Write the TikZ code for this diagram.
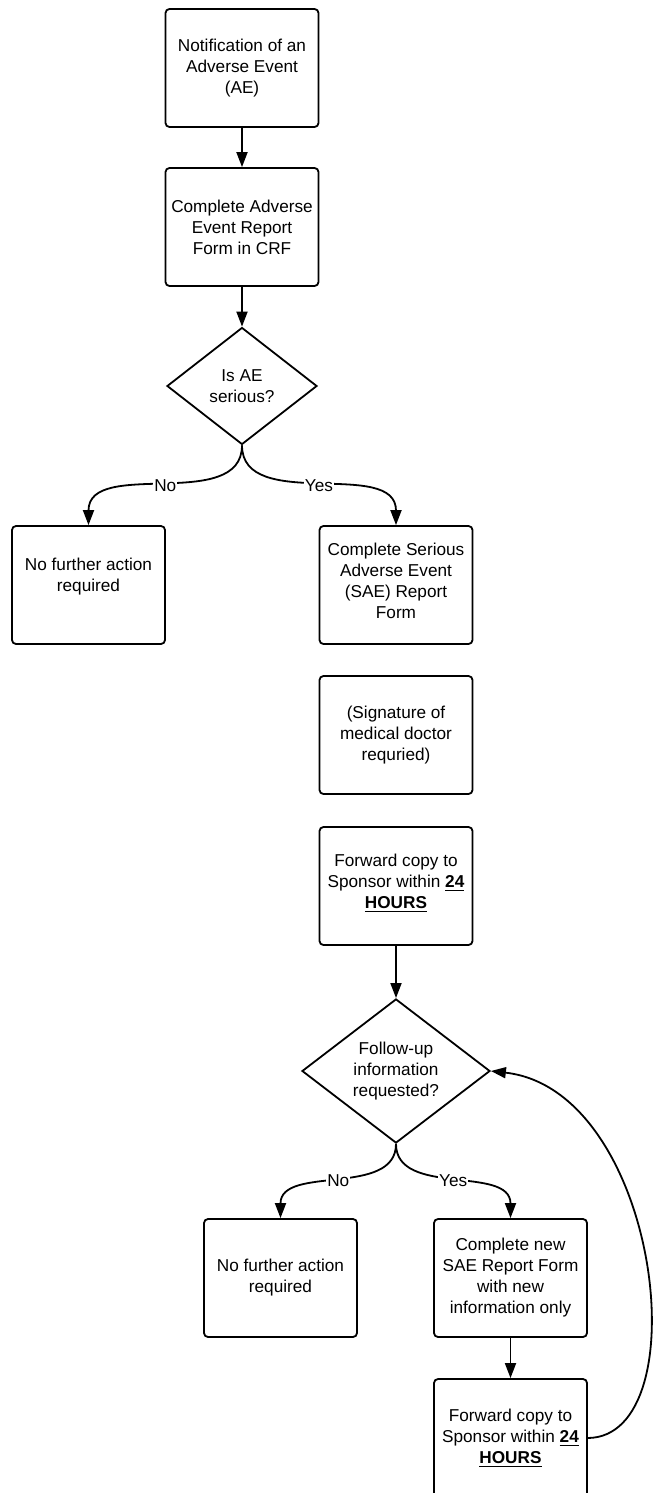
\documentclass[tikz,border=0pt]{standalone}
\usepackage{fontspec}
\setmainfont{Liberation Sans}
\usetikzlibrary{arrows.meta,shapes.geometric}
\begin{document}
\begin{tikzpicture}[x=0.5pt,y=-0.5pt,
  font=\fontsize{8.6}{10.5}\selectfont,
  box/.style={draw, line width=0.9pt, rounded corners=2pt, minimum width=76.5pt, minimum height=59pt, align=center, inner sep=1pt},
  dec/.style={draw, shape=diamond, line width=0.9pt, align=center, inner sep=0pt},
  arr/.style={-{Triangle[length=7.5pt,width=5.5pt]}, line width=0.9pt},
  lbl/.style={fill=white, inner sep=0.6pt}
]
\useasboundingbox (0,0) rectangle (654,1493);

\node[box] (b1) at (242,68) {Notification of an\\Adverse Event\\(AE)};
\node[box] (b2) at (242,227) {Complete Adverse\\Event Report\\Form in CRF};
\node[dec, minimum width=75pt, minimum height=58.5pt] (d1) at (242,386) {Is AE\\serious?};
\node[box] (no1) at (88.5,585) {No further action\\required\\\mbox{}};
\node[box] (sae) at (396,585) {Complete Serious\\Adverse Event\\(SAE) Report\\Form\\[-6pt]\mbox{}};
\node[box] (sig) at (396,735) {(Signature of\\medical doctor\\requried)};
\node[box] (fwd1) at (396,886) {Forward copy to\\Sponsor within \underline{\textbf{24}}\\\underline{\textbf{HOURS}}\\[-6pt]\mbox{}};
\node[dec, minimum width=94pt, minimum height=68pt] (d2) at (396,1071) {Follow-up\\information\\requested?};
\node[box] (no2) at (280.5,1278) {No further action\\required};
\node[box] (new) at (510.5,1278) {Complete new\\SAE Report Form\\with new\\information only};
\node[box] (fwd2) at (510.5,1438) {Forward copy to\\Sponsor within \underline{\textbf{24}}\\\underline{\textbf{HOURS}}};

\draw[arr] (b1.south) -- (b2.north);
\draw[arr] (b2.south) -- (d1.north);
\draw[arr] (d1.south) to[out=-90,in=90] node[lbl]{No} (no1.north);
\draw[arr] (d1.south) to[out=-90,in=90] node[lbl]{Yes} (sae.north);
\draw[arr] (fwd1.south) -- (d2.north);
\draw[arr] (d2.south) to[out=-90,in=90] node[lbl]{No} (no2.north);
\draw[arr] (d2.south) to[out=-90,in=90] node[lbl]{Yes} (new.north);
\draw[arr] (new.south) -- (fwd2.north);
\draw[arr] (fwd2.east) .. controls (700,1437) and (660,1090) .. (d2.east);
\end{tikzpicture}
\end{document}
